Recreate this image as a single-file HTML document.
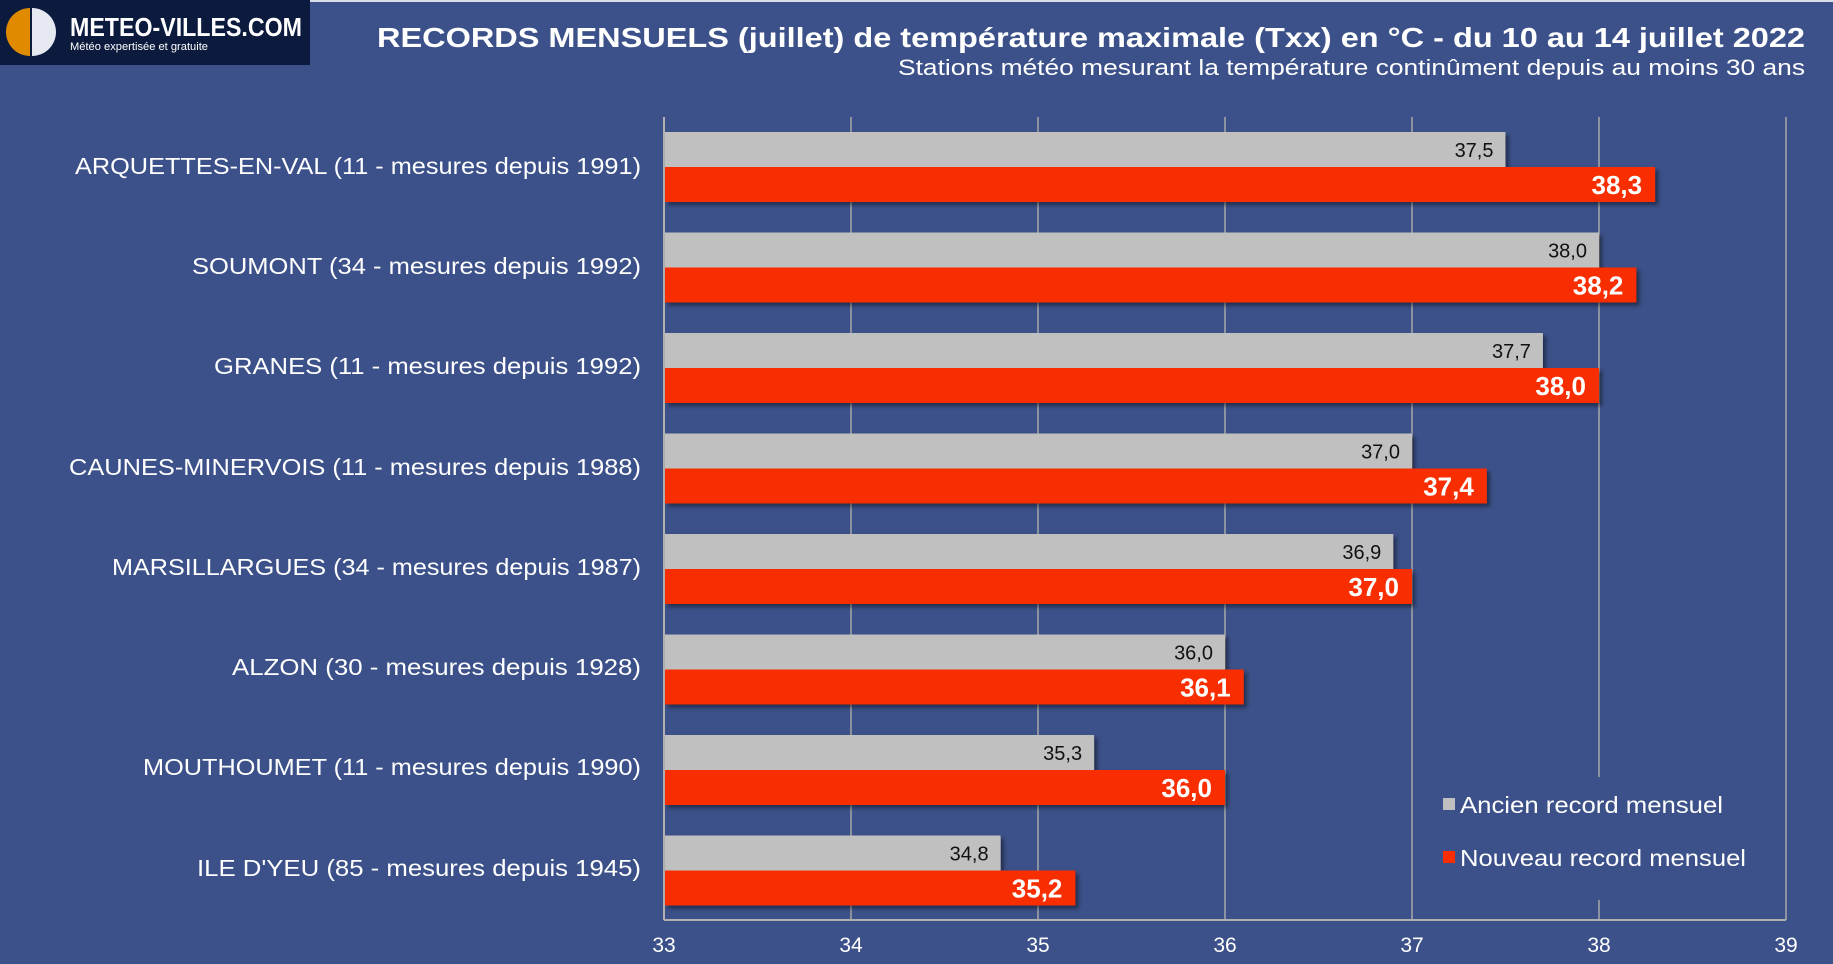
<!DOCTYPE html>
<html><head><meta charset="utf-8"><style>
html,body{margin:0;padding:0;background:#3c5189;}
svg{display:block;font-family:"Liberation Sans","DejaVu Sans",sans-serif;}
</style></head><body>
<svg width="1833" height="964" viewBox="0 0 1833 964" xmlns="http://www.w3.org/2000/svg">
<defs><filter id="sh" x="-5%" y="-20%" width="110%" height="150%"><feDropShadow dx="3" dy="3" stdDeviation="2" flood-color="#000" flood-opacity="0.45"/></filter></defs>
<rect width="1833" height="964" fill="#3c5189"/>
<rect x="0" y="0" width="1833" height="2" fill="#d8dce6"/>
<rect x="0" y="0" width="310" height="65" fill="#0b1a3d"/>
<path d="M30 8 A24 24 0 0 0 30 56 Z" fill="#e08a00"/>
<path d="M32 8 A24 24 0 0 1 32 56 Z" fill="#e6e9f2"/>
<text x="70" y="36" font-size="26" font-weight="bold" fill="#fff" textLength="232" lengthAdjust="spacingAndGlyphs">METEO-VILLES.COM</text>
<text x="70" y="50" font-size="11" fill="#fff" textLength="138" lengthAdjust="spacingAndGlyphs">Météo expertisée et gratuite</text>
<text x="377" y="47" font-size="28" font-weight="bold" fill="#fff" textLength="1428" lengthAdjust="spacingAndGlyphs">RECORDS MENSUELS (juillet) de température maximale (Txx) en °C - du 10 au 14 juillet 2022</text>
<text x="898" y="75" font-size="22" fill="#fff" textLength="907" lengthAdjust="spacingAndGlyphs">Stations météo mesurant la température continûment depuis au moins 30 ans</text>
<g stroke="#a8a8a8" stroke-width="1.5">
<line x1="851" y1="117" x2="851" y2="920"/>
<line x1="1038" y1="117" x2="1038" y2="920"/>
<line x1="1225" y1="117" x2="1225" y2="920"/>
<line x1="1412" y1="117" x2="1412" y2="920"/>
<line x1="1599" y1="117" x2="1599" y2="920"/>
<line x1="1786" y1="117" x2="1786" y2="920"/>
</g>
<rect x="1438" y="777" width="317" height="123" fill="#3c5189"/>
<line x1="664" y1="117" x2="664" y2="920" stroke="#b0b0b0" stroke-width="2"/>
<line x1="664" y1="920" x2="1786" y2="920" stroke="#b0b0b0" stroke-width="2"/>
<g font-size="21" fill="#fff" text-anchor="middle">
<text x="664" y="952">33</text><text x="851" y="952">34</text><text x="1038" y="952">35</text>
<text x="1225" y="952">36</text><text x="1412" y="952">37</text><text x="1599" y="952">38</text><text x="1786" y="952">39</text>
</g>
<g filter="url(#sh)">
<rect x="665" y="132" width="840.5" height="35" fill="#c0c0c0"/>
<rect x="665" y="167" width="990.1" height="35" fill="#f92d00"/>
<rect x="665" y="232.5" width="934" height="35" fill="#c0c0c0"/>
<rect x="665" y="267.5" width="971.4" height="35" fill="#f92d00"/>
<rect x="665" y="333" width="877.9" height="35" fill="#c0c0c0"/>
<rect x="665" y="368" width="934" height="35" fill="#f92d00"/>
<rect x="665" y="433.5" width="747" height="35" fill="#c0c0c0"/>
<rect x="665" y="468.5" width="821.8" height="35" fill="#f92d00"/>
<rect x="665" y="534" width="728.3" height="35" fill="#c0c0c0"/>
<rect x="665" y="569" width="747" height="35" fill="#f92d00"/>
<rect x="665" y="634.5" width="560" height="35" fill="#c0c0c0"/>
<rect x="665" y="669.5" width="578.7" height="35" fill="#f92d00"/>
<rect x="665" y="735" width="429.1" height="35" fill="#c0c0c0"/>
<rect x="665" y="770" width="560" height="35" fill="#f92d00"/>
<rect x="665" y="835.5" width="335.6" height="35" fill="#c0c0c0"/>
<rect x="665" y="870.5" width="410.4" height="35" fill="#f92d00"/>
</g>
<g font-size="20" fill="#111" text-anchor="end">
<text x="1493.5" y="157">37,5</text>
<text x="1587" y="257.5">38,0</text>
<text x="1530.9" y="358">37,7</text>
<text x="1400" y="458.5">37,0</text>
<text x="1381.3" y="559">36,9</text>
<text x="1213" y="659.5">36,0</text>
<text x="1082.1" y="760">35,3</text>
<text x="988.6" y="860.5">34,8</text>
</g>
<g font-size="26" font-weight="bold" fill="#fff" text-anchor="end">
<text x="1642.1" y="194">38,3</text>
<text x="1623.4" y="294.5">38,2</text>
<text x="1586" y="395">38,0</text>
<text x="1473.8" y="495.5">37,4</text>
<text x="1399" y="596">37,0</text>
<text x="1230.7" y="696.5">36,1</text>
<text x="1212" y="797">36,0</text>
<text x="1062.4" y="897.5">35,2</text>
</g>
<g font-size="23" fill="#fff" text-anchor="end">
<text x="641" y="174" textLength="566" lengthAdjust="spacingAndGlyphs">ARQUETTES-EN-VAL (11 - mesures depuis 1991)</text>
<text x="641" y="274" textLength="449" lengthAdjust="spacingAndGlyphs">SOUMONT (34 - mesures depuis 1992)</text>
<text x="641" y="374" textLength="427" lengthAdjust="spacingAndGlyphs">GRANES (11 - mesures depuis 1992)</text>
<text x="641" y="475" textLength="572" lengthAdjust="spacingAndGlyphs">CAUNES-MINERVOIS (11 - mesures depuis 1988)</text>
<text x="641" y="575" textLength="529" lengthAdjust="spacingAndGlyphs">MARSILLARGUES (34 - mesures depuis 1987)</text>
<text x="641" y="675" textLength="409" lengthAdjust="spacingAndGlyphs">ALZON (30 - mesures depuis 1928)</text>
<text x="641" y="775" textLength="498" lengthAdjust="spacingAndGlyphs">MOUTHOUMET (11 - mesures depuis 1990)</text>
<text x="641" y="876" textLength="444" lengthAdjust="spacingAndGlyphs">ILE D'YEU (85 - mesures depuis 1945)</text>
</g>
<rect x="1443" y="798" width="12" height="12" fill="#c0c0c0"/>
<text x="1460" y="813" font-size="23" fill="#fff" textLength="263" lengthAdjust="spacingAndGlyphs">Ancien record mensuel</text>
<rect x="1443" y="851" width="12" height="12" fill="#f92d00"/>
<text x="1460" y="866" font-size="23" fill="#fff" textLength="286" lengthAdjust="spacingAndGlyphs">Nouveau record mensuel</text>
</svg>
</body></html>
